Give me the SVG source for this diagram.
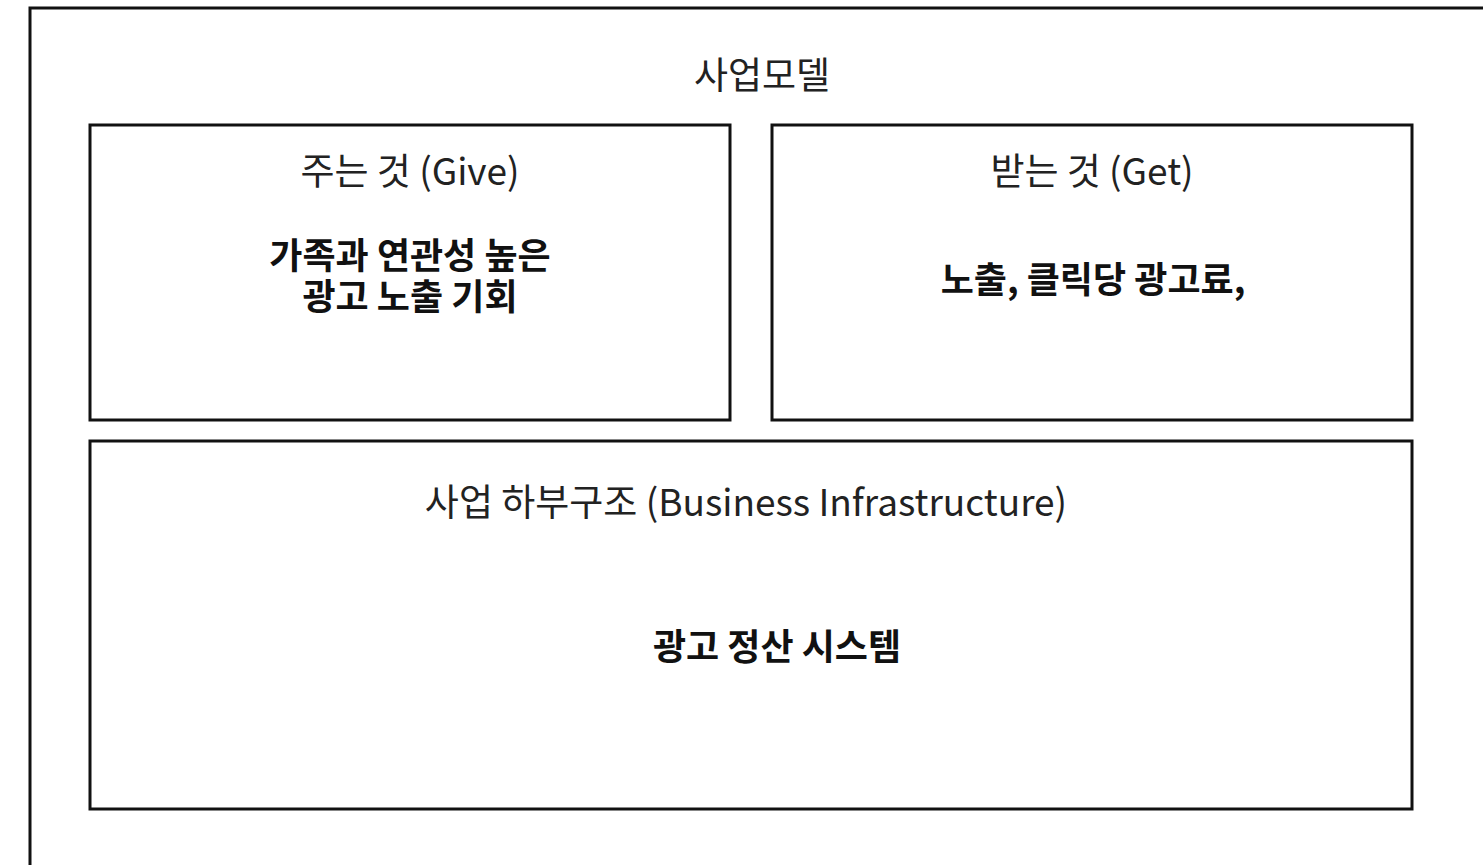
<svg xmlns="http://www.w3.org/2000/svg" width="1483" height="865" viewBox="0 0 1483 865">
<style>
.box{fill:#fff;stroke:#111;stroke-width:3}
.lbl{font-family:"Noto Sans CJK KR","Noto Sans",sans-serif;font-size:37px;fill:#222;text-anchor:middle}
.bold{font-family:"Noto Sans CJK KR","Noto Sans",sans-serif;font-size:36px;font-weight:700;fill:#111;text-anchor:middle}
</style>
<rect width="1483" height="865" fill="#fff"/>
<g id="business-model">
<rect class="box" x="30" y="8" width="1500" height="900"/>
<text class="lbl" x="762" y="89">사업모델</text>
</g>
<g id="give">
<rect class="box" x="90" y="125" width="640" height="295"/>
<text class="lbl" x="410" y="185">주는 것 (Give)</text>
<text class="bold"><tspan x="410" y="269">가족과 연관성 높은</tspan><tspan x="410" y="310">광고 노출 기회</tspan></text>
</g>
<g id="get">
<rect class="box" x="772" y="125" width="640" height="295"/>
<text class="lbl" x="1092" y="185">받는 것 (Get)</text>
<text class="bold" x="1093" y="293">노출, 클릭당 광고료,</text>
</g>
<g id="infra">
<rect class="box" x="90" y="441" width="1322" height="368"/>
<text class="lbl" x="746" y="516">사업 하부구조 (Business Infrastructure)</text>
<text class="bold" x="777" y="660">광고 정산 시스템</text>
</g>
<g id="connectors"/>
</svg>
